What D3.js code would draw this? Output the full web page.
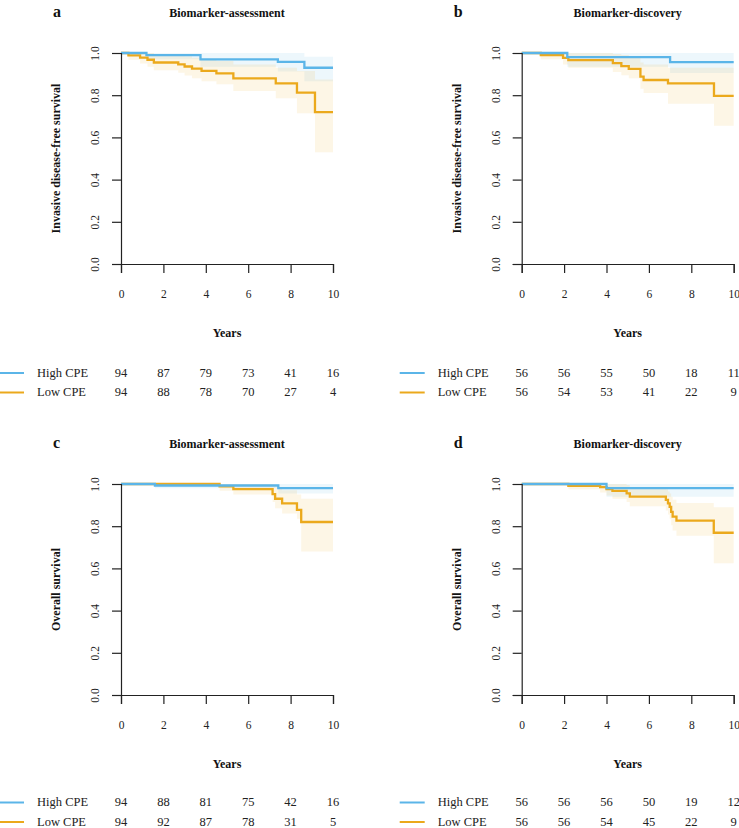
<!DOCTYPE html>
<html>
<head>
<meta charset="utf-8">
<script src="https://cdn.jsdelivr.net/npm/d3@7"></script>
<style>
  html, body { margin: 0; padding: 0; background: #fff; }
  svg { display: block; }
  text { font-family: "Liberation Serif", "Times New Roman", serif; }
</style>
</head>
<body>
<svg id="chart" width="739" height="828"></svg>
<script>
// ---------- DATA ----------
const yearTicks = [0, 2, 4, 6, 8, 10];
const survTicks = [0, 0.2, 0.4, 0.6, 0.8, 1.0];
const groupNames = ["High CPE", "Low CPE"];
const panelLetters = ["a", "b", "c", "d"];
const panelTitles = ["Biomarker-assessment", "Biomarker-discovery", "Biomarker-assessment", "Biomarker-discovery"];
const yTitles = ["Invasive disease-free survival", "Invasive disease-free survival", "Overall survival", "Overall survival"];

// Panel a (IDFS, biomarker-assessment)
const aHighTime  = [0, 1.2, 3.75, 7.4, 8.65];
const aHighSurv  = [1.0, 0.99, 0.97, 0.958, 0.93];
const aHighLower = [1.0, 0.97, 0.935, 0.912, 0.866];
const aHighUpper = [1.0, 1.0, 1.0, 1.0, 0.982];
const aLowTime   = [0, 0.35, 0.9, 1.25, 1.55, 2.7, 3.0, 3.35, 3.8, 4.5, 5.3, 7.3, 8.3, 9.15];
const aLowSurv   = [1.0, 0.989, 0.978, 0.968, 0.955, 0.946, 0.936, 0.926, 0.915, 0.903, 0.88, 0.856, 0.812, 0.72];
const aLowLower  = [1.0, 0.968, 0.95, 0.935, 0.918, 0.906, 0.893, 0.88, 0.866, 0.852, 0.82, 0.785, 0.715, 0.53];
const aLowUpper  = [1.0, 1.0, 1.0, 1.0, 0.995, 0.99, 0.985, 0.978, 0.97, 0.962, 0.945, 0.93, 0.915, 0.875];

// Panel b (IDFS, biomarker-discovery)
const bHighTime  = [0, 2.15, 7.0];
const bHighSurv  = [1.0, 0.98, 0.957];
const bHighLower = [1.0, 0.935, 0.905];
const bHighUpper = [1.0, 1.0, 1.0];
const bLowTime   = [0, 0.9, 1.95, 2.2, 4.3, 4.7, 5.05, 5.6, 5.75, 6.9, 9.07];
const bLowSurv   = [1.0, 0.99, 0.977, 0.966, 0.952, 0.938, 0.925, 0.888, 0.872, 0.856, 0.797];
const bLowLower  = [1.0, 0.97, 0.945, 0.93, 0.91, 0.895, 0.88, 0.83, 0.81, 0.76, 0.655];
const bLowUpper  = [1.0, 1.0, 1.0, 1.0, 0.995, 0.99, 0.98, 0.955, 0.945, 0.93, 0.93];

// Panel c (OS, biomarker-assessment)
const cHighTime  = [0, 1.6, 7.42];
const cHighSurv  = [1.0, 0.993, 0.98];
const cHighLower = [1.0, 0.98, 0.955];
const cHighUpper = [1.0, 1.0, 1.0];
const cLowTime   = [0, 4.65, 5.3, 7.15, 7.27, 7.6, 8.3, 8.5];
const cLowSurv   = [1.0, 0.989, 0.976, 0.952, 0.93, 0.908, 0.877, 0.82];
const cLowLower  = [1.0, 0.968, 0.95, 0.915, 0.885, 0.86, 0.835, 0.68];
const cLowUpper  = [1.0, 1.0, 1.0, 0.995, 0.985, 0.97, 0.95, 0.93];

// Panel d (OS, biomarker-discovery)
const dHighTime  = [0, 4.0];
const dHighSurv  = [1.0, 0.98];
const dHighLower = [1.0, 0.94];
const dHighUpper = [1.0, 1.0];
const dLowTime   = [0, 2.2, 3.7, 4.0, 4.28, 4.95, 5.1, 6.8, 6.9, 6.98, 7.05, 7.12, 7.3, 9.06];
const dLowSurv   = [1.0, 0.991, 0.985, 0.976, 0.967, 0.956, 0.94, 0.925, 0.908, 0.892, 0.868, 0.845, 0.826, 0.769];
const dLowLower  = [1.0, 0.975, 0.96, 0.945, 0.93, 0.915, 0.895, 0.875, 0.855, 0.835, 0.805, 0.78, 0.755, 0.625];
const dLowUpper  = [1.0, 1.0, 1.0, 1.0, 1.0, 0.995, 0.985, 0.975, 0.965, 0.955, 0.94, 0.925, 0.91, 0.89];

// Numbers at risk
const aHighRisk = [94, 87, 79, 73, 41, 16];
const aLowRisk  = [94, 88, 78, 70, 27, 4];
const bHighRisk = [56, 56, 55, 50, 18, 11];
const bLowRisk  = [56, 54, 53, 41, 22, 9];
const cHighRisk = [94, 88, 81, 75, 42, 16];
const cLowRisk  = [94, 92, 87, 78, 31, 5];
const dHighRisk = [56, 56, 56, 50, 19, 12];
const dLowRisk  = [56, 56, 54, 45, 22, 9];

// ---------- BUILD ----------
function curve(time, surv, lower, upper) {
  const pts = time.map((t, i) => ({ t, s: surv[i], lo: lower[i], hi: upper[i] }));
  const last = pts[pts.length - 1];
  pts.push({ t: 10, s: last.s, lo: last.lo, hi: last.hi });
  return pts;
}
const panels = [
  { high: curve(aHighTime, aHighSurv, aHighLower, aHighUpper), low: curve(aLowTime, aLowSurv, aLowLower, aLowUpper), risk: [aHighRisk, aLowRisk] },
  { high: curve(bHighTime, bHighSurv, bHighLower, bHighUpper), low: curve(bLowTime, bLowSurv, bLowLower, bLowUpper), risk: [bHighRisk, bLowRisk] },
  { high: curve(cHighTime, cHighSurv, cHighLower, cHighUpper), low: curve(cLowTime, cLowSurv, cLowLower, cLowUpper), risk: [cHighRisk, cLowRisk] },
  { high: curve(dHighTime, dHighSurv, dHighLower, dHighUpper), low: curve(dLowTime, dLowSurv, dLowLower, dLowUpper), risk: [dHighRisk, dLowRisk] }
];

const BLUE = "#5BB5E8";
const ORANGE = "#EBA91C";
const AXIS = "#222";

const svg = d3.select("#chart");
svg.append("rect").attr("width", 739).attr("height", 828).attr("fill", "#fff");

panels.forEach((p, i) => {
  const col = i % 2, row = Math.floor(i / 2);
  const dx = col * 400.7, dy = row * 431;
  const x = d3.scaleLinear().domain([0, 10]).range([121 + dx, 333 + dx]);
  const y = d3.scaleLinear().domain([0, 1]).range([264 + dy, 53 + dy]);
  const g = svg.append("g");

  // confidence bands
  const area = d3.area().curve(d3.curveStepAfter)
    .x(d => x(d.t)).y0(d => y(d.lo)).y1(d => y(d.hi));
  g.append("path").datum(p.high).attr("d", area).attr("fill", BLUE).attr("fill-opacity", 0.11);
  g.append("path").datum(p.low).attr("d", area).attr("fill", ORANGE).attr("fill-opacity", 0.11);

  // survival lines
  const line = d3.line().curve(d3.curveStepAfter).x(d => x(d.t)).y(d => y(d.s));
  g.append("path").datum(p.low).attr("d", line).attr("fill", "none")
    .attr("stroke", ORANGE).attr("stroke-width", 2.3);
  g.append("path").datum(p.high).attr("d", line).attr("fill", "none")
    .attr("stroke", BLUE).attr("stroke-width", 2.3);

  // axes
  const xAxis = d3.axisBottom(x).tickValues(yearTicks).tickSize(9).tickPadding(17).tickFormat(d3.format("d"));
  const gx = g.append("g").attr("transform", `translate(0,${264 + dy})`).call(xAxis);
  gx.select(".domain").attr("stroke", AXIS).attr("stroke-width", 1.2);
  gx.selectAll(".tick line").attr("stroke", AXIS).attr("stroke-width", 1.2);
  gx.selectAll(".tick text").attr("font-size", "11.5px").attr("fill", AXIS)
    .attr("font-family", "Liberation Serif");

  const yAxis = d3.axisLeft(y).tickValues(survTicks).tickSize(9).tickFormat(d3.format(".1f"));
  const gy = g.append("g").attr("transform", `translate(${121 + dx},0)`).call(yAxis);
  gy.select(".domain").attr("stroke", AXIS).attr("stroke-width", 1.2);
  gy.selectAll(".tick line").attr("stroke", AXIS).attr("stroke-width", 1.2);
  gy.selectAll(".tick text")
    .attr("x", null).attr("dy", null)
    .attr("transform", "translate(-22,0) rotate(-90)")
    .attr("text-anchor", "middle")
    .attr("font-size", "11.5px").attr("fill", AXIS)
    .attr("font-family", "Liberation Serif");

  const cx = (x(0) + x(10)) / 2;
  const cy = (y(0) + y(1)) / 2;

  // labels
  g.append("text").attr("x", 53 + dx).attr("y", 17 + dy)
    .attr("font-size", "16px").attr("font-weight", "bold").attr("fill", "#111").text(panelLetters[i]);
  g.append("text").attr("x", cx).attr("y", 17 + dy).attr("text-anchor", "middle")
    .attr("font-size", "12px").attr("font-weight", "bold").attr("fill", "#111").text(panelTitles[i]);
  g.append("text").attr("transform", `translate(${60 + dx},${cy}) rotate(-90)`)
    .attr("text-anchor", "middle").attr("font-size", "12px").attr("font-weight", "bold")
    .attr("fill", "#111").text(yTitles[i]);
  g.append("text").attr("x", cx).attr("y", 337 + dy).attr("text-anchor", "middle")
    .attr("font-size", "12px").attr("font-weight", "bold").attr("fill", "#111").text("Years");

  // risk table
  const colors = [BLUE, ORANGE];
  p.risk.forEach((vals, r) => {
    const base = 376.5 + dy + r * 19.5 - row * 1.5;
    g.append("line").attr("x1", -1 + dx).attr("x2", 24 + dx)
      .attr("y1", base - 3.5).attr("y2", base - 3.5)
      .attr("stroke", colors[r]).attr("stroke-width", 2);
    g.append("text").attr("x", 37 + dx).attr("y", base)
      .attr("font-size", "12.5px").attr("fill", "#222").text(groupNames[r]);
    g.selectAll(null).data(vals).enter().append("text")
      .attr("x", (d, k) => x(yearTicks[k])).attr("y", base)
      .attr("text-anchor", "middle").attr("font-size", "12.5px").attr("fill", "#222")
      .text(d => d);
  });
});
</script>
</body>
</html>
